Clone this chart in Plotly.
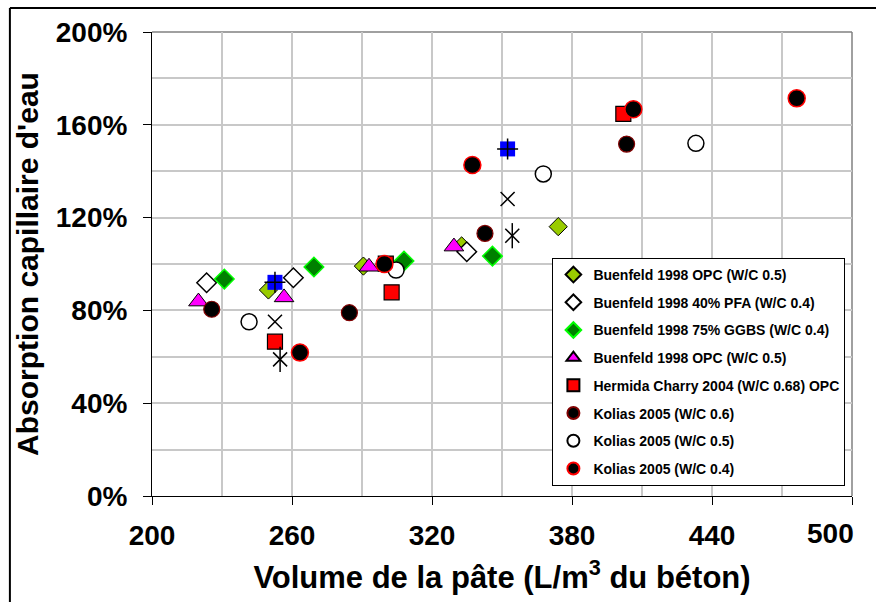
import plotly.graph_objects as go

# Volume de pâte (L/m3) et absorption capillaire relative (fraction)
buen_opc_x = [249.9, 290.6, 332.7, 374.1]
buen_opc_y = [0.888, 0.991, 1.078, 1.161]

buen_pfa_x = [223.4, 260.6, 334.9]
buen_pfa_y = [0.919, 0.941, 1.053]

buen_ggbs_x = [231.0, 269.4, 308.0, 345.9]
buen_ggbs_y = [0.935, 0.987, 1.013, 1.034]

buen_tri_x = [219.9, 256.6, 293.0, 329.4]
buen_tri_y = [0.838, 0.856, 0.988, 1.075]

hermida_x = [252.7, 300.2, 302.7, 402.0]
hermida_y = [0.665, 1.002, 0.878, 1.647]

kolias06_x = [225.6, 284.6, 342.7, 403.4]
kolias06_y = [0.805, 0.790, 1.132, 1.517]

kolias05_x = [241.6, 304.6, 367.7, 433.1]
kolias05_y = [0.751, 0.974, 1.388, 1.520]

kolias04_x = [263.4, 299.6, 337.3, 406.3, 476.3]
kolias04_y = [0.618, 1.000, 1.427, 1.667, 1.714]

# séries sans entrée de légende
blue_x = [252.7, 352.4]
blue_y = [0.921, 1.496]
cross_x = [252.7, 352.4]
cross_y = [0.751, 1.280]
star_x = [254.9, 354.4]
star_y = [0.589, 1.122]

# graduations de l'axe des volumes (la dernière est posée à part, calée à droite)
x_ticks = [200, 260, 320, 380, 440, 500]
x_tick_text = ["200", "260", "320", "380", "440", ""]
x_last_label = "500"

FONT = "Liberation Sans, Arial, sans-serif"

fig = go.Figure()
_group = [0]


def add(name, x, y, symbol, size, fill, edge, ew, show=True):
    _group[0] += 1
    fig.add_trace(go.Scatter(
        x=x, y=y, mode="markers", name=name, showlegend=show,
        legendgroup=f"g{_group[0]}",
        marker=dict(symbol=symbol, size=size, color=fill,
                    line=dict(color=edge, width=ew)),
    ))


add("Buenfeld 1998 OPC (W/C 0.5)", buen_opc_x, buen_opc_y,
    "diamond", 14, "#99CC00", "black", 1)
add("Buenfeld 1998 40% PFA (W/C 0.4)", buen_pfa_x, buen_pfa_y,
    "diamond", 15, "white", "black", 1.5)
add("Buenfeld 1998 75% GGBS (W/C 0.4)", buen_ggbs_x, buen_ggbs_y,
    "diamond", 15, "#008000", "#00FF00", 1.5)
add("Buenfeld 1998 OPC (W/C 0.5)", buen_tri_x, buen_tri_y,
    "triangle-up", 17, "#FF00FF", "black", 1)
add("Hermida Charry 2004 (W/C 0.68) OPC", hermida_x, hermida_y,
    "square", 15, "#FF0000", "black", 1.2)
add("Kolias 2005 (W/C 0.6)", kolias06_x, kolias06_y,
    "circle", 16, "black", "#800000", 1.2)
add("Kolias 2005 (W/C 0.5)", kolias05_x, kolias05_y,
    "circle", 16, "white", "black", 1.5)
add("Kolias 2005 (W/C 0.4)", kolias04_x, kolias04_y,
    "circle", 17, "black", "#FF0000", 1.5)
add("bleu", blue_x, blue_y, "square", 15, "#0000FF", "#0000FF", 0, show=False)
add("bleu+", blue_x, blue_y, "cross-thin", 15, "black", "black", 1.5, show=False)
add("croix", cross_x, cross_y, "x-thin", 14, "black", "black", 1.5, show=False)
add("etoile", star_x, star_y, "x-thin", 14, "black", "black", 1.5, show=False)
add("etoile|", star_x, star_y, "line-ns", 18, "black", "black", 1.5, show=False)

tick_font = dict(family=FONT, size=28, color="black", weight="bold")

fig.update_xaxes(
    range=[200, 500], tickmode="array", tickvals=x_ticks, ticktext=x_tick_text,
    showgrid=True, gridcolor="#C8C8C8", gridwidth=1.5,
    minor=dict(dtick=30, tick0=200, showgrid=True, gridcolor="#C8C8C8",
               gridwidth=1.5, ticks=""),
    showline=True, linecolor="black", linewidth=1,
    ticks="outside", ticklen=8, tickcolor="black", tickwidth=1,
    zeroline=False, ticklabelstandoff=6, automargin=False,
    tickfont=tick_font,
    title=dict(text="Volume de la pâte (L/m<sup>3</sup> du béton)",
               font=dict(family=FONT, size=31, color="black", weight="bold"),
               standoff=16),
)
fig.update_yaxes(
    range=[0, 2.0], dtick=0.4, tick0=0, tickformat=".0%",
    showgrid=True, gridcolor="#C8C8C8", gridwidth=1.5,
    minor=dict(dtick=0.2, tick0=0, showgrid=True, gridcolor="#C8C8C8",
               gridwidth=1.5, ticks=""),
    showline=True, linecolor="black", linewidth=1,
    ticks="outside", ticklen=8, tickcolor="black", tickwidth=1,
    zeroline=False, ticklabelstandoff=10, automargin=False,
    tickfont=tick_font,
    title=dict(text="Absorption capillaire d'eau",
               font=dict(family=FONT, size=30, color="black", weight="bold"),
               standoff=8),
)

fig.add_annotation(
    x=x_ticks[-1], xref="x", y=0, yref="paper", yanchor="top", xanchor="right",
    text=x_last_label, showarrow=False, xshift=4, yshift=-20,
    font=tick_font,
)

fig.update_layout(
    width=876, height=602,
    margin=dict(l=152, r=24, t=32, b=106),
    paper_bgcolor="white", plot_bgcolor="white",
    showlegend=True,
    legend=dict(
        x=0.572, y=0.513, xanchor="left", yanchor="top",
        bgcolor="white", bordercolor="black", borderwidth=1,
        font=dict(family=FONT, size=14, color="black", weight="bold"),
        tracegroupgap=6.5, itemsizing="constant",
    ),
    shapes=[
        # cadre gris de la zone de tracé (haut et droite)
        dict(type="line", xref="paper", yref="paper", x0=0, x1=1, y0=1, y1=1,
             line=dict(color="#808080", width=1.5), layer="below"),
        dict(type="line", xref="paper", yref="paper", x0=1, x1=1, y0=0, y1=1,
             line=dict(color="#808080", width=1.5), layer="below"),
        # bordure du graphique
        dict(type="line", xref="paper", yref="paper", x0=-0.203, x1=1.05,
             y0=1.0517, y1=1.0517, line=dict(color="black", width=2)),
        dict(type="line", xref="paper", yref="paper", x0=-0.203, x1=-0.203,
             y0=-0.25, y1=1.0517, line=dict(color="black", width=2)),
    ],
)

fig.write_html("out.html")
